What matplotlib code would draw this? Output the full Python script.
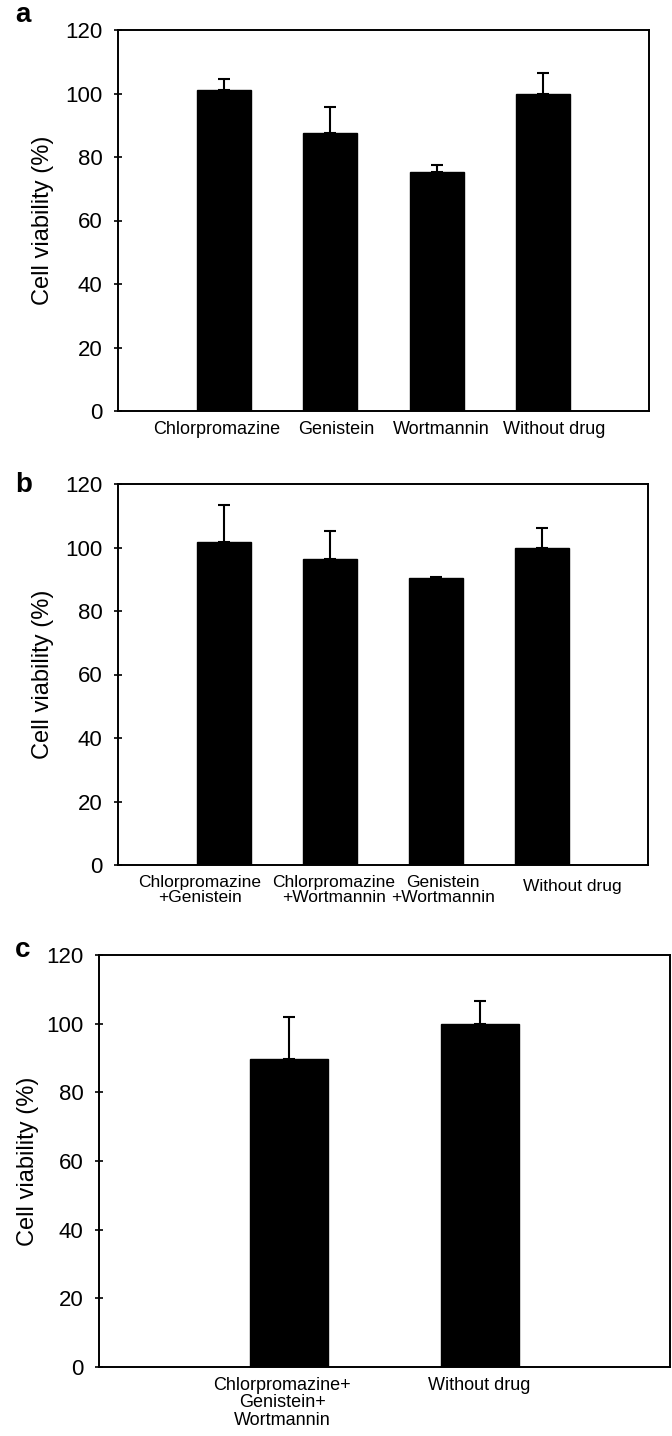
import matplotlib
matplotlib.use('Agg')
import matplotlib.pyplot as plt
import matplotlib.transforms as mtransforms
import numpy as np

plt.rcParams['font.family'] = ['Liberation Sans', 'DejaVu Sans']

# Panel a
labels_a = ['Chlorpromazine', 'Genistein', 'Wortmannin', 'Without drug']
values_a = [101.0, 87.7, 75.4, 99.8]
errors_a = [3.6, 7.9, 2.0, 6.5]

# Panel b
labels_b = ['Chlorpromazine\n+Genistein', 'Chlorpromazine\n+Wortmannin',
            'Genistein\n+Wortmannin', 'Without drug']
values_b = [101.8, 96.4, 90.5, 99.8]
errors_b = [11.6, 8.7, 0.2, 6.4]

# Panel c
labels_c = ['Chlorpromazine+\nGenistein+\nWortmannin', 'Without drug']
values_c = [89.8, 100.0]
errors_c = [12.1, 6.5]

yticks = [0, 20, 40, 60, 80, 100, 120]

W, H = 672, 1436
fig = plt.figure(figsize=(W / 100, H / 100), dpi=100)


def px_axes(left, top, right, bottom):
    return fig.add_axes([left / W, 1 - bottom / H, (right - left) / W, (bottom - top) / H])


def draw_panel(ax, labels, values, errors, width, label_x, xfs, shifts, dys=None):
    x = np.arange(1, len(labels) + 1)
    lower = np.zeros(len(errors))
    ax.bar(x, values, width=width, color='black', edgecolor='black', zorder=2)
    ax.errorbar(x, values, yerr=[lower, errors], fmt='none', ecolor='black',
                elinewidth=1.5, capsize=4.2, capthick=1.5, zorder=1)
    ax.set_xlim(0, len(labels) + 1)
    ax.set_ylim(0, 120)
    ax.set_yticks(yticks)
    ax.set_yticklabels([str(t) for t in yticks], fontsize=16)
    ax.set_xticks(x)
    ax.set_xticklabels(labels, fontsize=xfs, linespacing=1.05)
    ax.tick_params(axis='x', length=0, pad=7)
    ax.tick_params(axis='y', direction='inout', length=6, width=1.2, pad=8)
    for s in ax.spines.values():
        s.set_linewidth(1.4)
    ax.set_ylabel('Cell viability (%)', fontsize=17)
    ax.yaxis.set_label_coords(label_x, 0.5)
    # nudge the category labels the way the original figure has them
    if dys is None:
        dys = [0] * len(labels)
    for lab, dx, dy in zip(ax.get_xticklabels(), shifts, dys):
        off = mtransforms.ScaledTranslation(dx / 100, -dy / 100, fig.dpi_scale_trans)
        lab.set_transform(lab.get_transform() + off)


ax_a = px_axes(118, 30, 649, 411)
draw_panel(ax_a, labels_a, values_a, errors_a, 0.51, -0.12, 13,
           [-8, 6, 5, 11])

ax_b = px_axes(118, 484, 648, 865)
draw_panel(ax_b, labels_b, values_b, errors_b, 0.51, -0.12, 12.5,
           [-24, 4, 7, 30], [0, 0, 0, 4])

ax_c = px_axes(99, 955, 670, 1367)
draw_panel(ax_c, labels_c, values_c, errors_c, 0.41, -0.105, 13,
           [-7, 0])

for letter, ypx in [('a', 22), ('b', 492), ('c', 957)]:
    fig.text(15 / W, 1 - ypx / H, letter, fontsize=20, fontweight='bold',
             ha='left', va='baseline')

fig.savefig('out.png', dpi=100)
